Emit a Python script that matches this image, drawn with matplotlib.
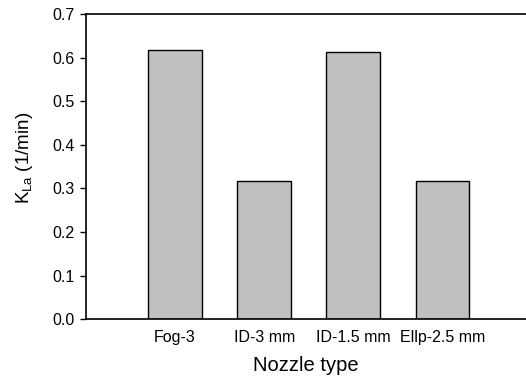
import matplotlib
matplotlib.use("Agg")
import matplotlib.pyplot as plt

nozzles = ["Fog-3", "ID-3 mm", "ID-1.5 mm", "Ellp-2.5 mm"]
kla = [0.617, 0.317, 0.612, 0.317]
yticks = [0.0, 0.1, 0.2, 0.3, 0.4, 0.5, 0.6, 0.7]

plt.rcParams["font.family"] = ["Liberation Sans", "DejaVu Sans"]
plt.rcParams["mathtext.fontset"] = "custom"
plt.rcParams["mathtext.rm"] = "Liberation Sans"
plt.rcParams["mathtext.it"] = "Liberation Sans"

fig = plt.figure(figsize=(5.26, 3.8), dpi=100)
ax = fig.add_axes([0.1635, 0.16, 0.8365, 0.803])

pos = [1, 2, 3, 4]
ax.bar(pos, kla, width=0.6, color="#c0c0c0", edgecolor="black", linewidth=1)

ax.set_xlim(0, 4.94)
ax.set_ylim(0, 0.7)
ax.set_yticks(yticks)
ax.set_yticklabels(["%.1f" % v for v in yticks])
ax.set_xticks(pos)
ax.set_xticklabels(nozzles)
ax.tick_params(axis="y", direction="out", length=4, width=1, labelsize=11.5, pad=4)
ax.tick_params(axis="x", length=0, labelsize=11.5, pad=8)
ax.spines["right"].set_visible(False)
for s in ["left", "top", "bottom"]:
    ax.spines[s].set_linewidth(1.2)

ax.set_xlabel("Nozzle type", fontsize=14.5, labelpad=8)
ax.set_ylabel(r"K$_{\mathrm{La}}$ (1/min)", fontsize=13.5)
ax.yaxis.set_label_coords(-0.117, 0.53)

fig.savefig("out.png", dpi=100)
